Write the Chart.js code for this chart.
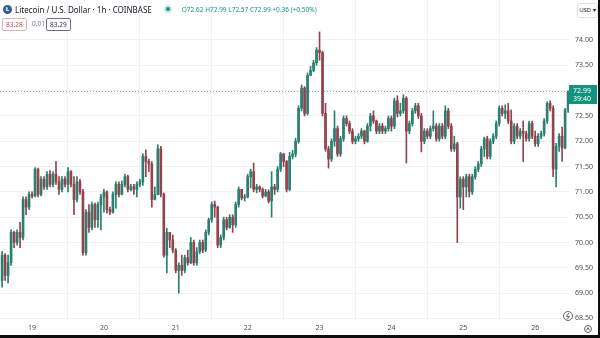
<!DOCTYPE html>
<html lang="en">
  <head>
    <meta charset="UTF-8">
    <script src="https://cdn.jsdelivr.net/npm/chart.js"></script>
    <style>
      body {
      margin: 0;
      width: 600px;
      height: 338px;
      overflow: hidden;
      background: #0e0e0f;
      font-family: "Noto Sans", "Open Sans", sans-serif;
      }
      .frame {
      position: absolute;
      left: 0;
      top: 0;
      width: 598px;
      height: 335px;
      background: #ffffff;
      }
      canvas {
      position: absolute;
      left: 0;
      top: 0;
      }
      .legend {
      position: absolute;
      left: 3px;
      top: 3px;
      height: 12px;
      display: flex;
      align-items: center;
      white-space: nowrap;
      font-size: 8px;
      color: #131722;
      }
      .logo {
      width: 9px;
      height: 9px;
      border-radius: 50%;
      background: #345d9d;
      color: #fff;
      font-size: 6px;
      font-weight: bold;
      line-height: 9px;
      text-align: center;
      margin-right: 3px;
      }
      .status {
      width: 4px;
      height: 4px;
      border-radius: 50%;
      background: #089981;
      box-shadow: 0 0 0 2px #c8ebe4;
      margin: 0 12px 0 14px;
      }
      .ohlc {
      font-size: 6.5px;
      color: #089981;
      }
      .trade {
      position: absolute;
      top: 18px;
      height: 11px;
      font-size: 6.5px;
      line-height: 11px;
      }
      .trade.box {
      border: 1px solid #b9bcc4;
      border-radius: 2px;
      padding: 0 3px;
      }
      .usd {
      position: absolute;
      left: 577px;
      top: 3px;
      height: 13px;
      width: 19px;
      border: 1px solid #e0e3eb;
      border-radius: 2px;
      font-size: 6px;
      line-height: 13px;
      text-align: center;
      color: #131722;
      background: #fff;
      }
    </style>
  </head>
  <body>
    <div class="frame">
      <canvas id="ltcChart" width="598" height="335"></canvas>
      <div class="legend">
        <div class="logo">Ł</div>
        <span>Litecoin / U.S. Dollar · 1h · COINBASE</span>
        <div class="status"></div>
        <span class="ohlc">O72.62 H72.99 L72.57 C72.99 +0.36 (+0.50%)</span>
      </div>
      <div class="trade box" style="left:2px; color:#b0464d; border-color:#d9b3b6;">83.28</div>
      <div class="trade" style="left:32px; color:#787b86;">0.01</div>
      <div class="trade box" style="left:46px; color:#2a2e39; border-color:#6c7080;">83.29</div>
      <div class="usd">USD ▾</div>
    </div>
    <script>
      // LTC/USD hourly candles, from 18th 14:00 to 26th 11:00
      const opens = [
        69.25, 69.75, 69.35, 69.60, 70.20, 70.00, 70.20, 70.10, 70.85, 70.70,
        70.95, 70.92, 71.45, 70.95, 71.25, 71.10, 71.35, 71.15, 71.35, 71.20,
        71.05, 71.25, 71.15, 71.40, 71.15, 70.85, 71.20, 71.00, 69.80, 70.60,
        70.30, 70.75, 70.45, 70.75, 70.90, 71.00, 70.65, 70.60, 70.95, 71.15,
        70.95, 71.15, 71.30, 71.05, 71.10, 71.05, 71.15, 71.20, 71.70, 71.60,
        71.55, 70.85, 70.95, 71.85, 70.95, 69.75, 70.20, 70.05, 69.85, 69.45,
        69.55, 69.45, 69.70, 69.60, 70.00, 69.60, 69.82, 70.00, 69.85, 70.20,
        70.45, 70.75, 70.70, 69.95, 70.10, 70.45, 70.30, 70.50, 70.35, 70.75,
        71.05, 70.88, 70.90, 71.30, 71.40, 71.05, 71.10, 71.05, 70.92, 71.00,
        70.82, 71.10, 71.05, 71.45, 71.75, 71.60, 71.05, 71.70, 71.75, 72.00,
        72.65, 73.05, 72.55, 73.30, 73.40, 73.55, 73.80, 73.75, 72.55, 71.85,
        71.65, 72.00, 72.25, 71.75, 72.05, 72.45, 72.35, 72.20, 72.00, 72.05,
        72.10, 72.20, 72.00, 72.30, 72.50, 72.40, 72.20, 72.30, 72.20, 72.25,
        72.45, 72.30, 72.80, 72.55, 72.60, 72.85, 72.20, 72.35, 72.60, 72.70,
        72.50, 72.00, 72.20, 72.10, 72.25, 72.30, 72.05, 72.30, 72.10, 72.60,
        72.30, 71.85, 71.95, 70.90, 71.25, 71.10, 71.30, 71.00, 71.30, 71.45,
        71.55, 71.85, 72.05, 71.70, 72.00, 72.10, 72.35, 72.65, 72.55, 72.60,
        72.40, 72.00, 72.30, 72.10, 72.20, 72.15, 72.05, 72.35, 72.10, 71.95,
        72.10, 72.15, 72.40, 72.75, 72.65, 71.45, 71.90, 72.10, 71.87, 72.62
      ];
      const highs = [
        69.82, 69.78, 69.75, 70.25, 70.22, 70.25, 70.40, 70.90, 70.90, 71.00,
        71.00, 71.48, 71.47, 71.30, 71.30, 71.40, 71.42, 71.40, 71.60, 71.30,
        71.30, 71.30, 71.48, 71.42, 71.30, 71.30, 71.25, 71.05, 70.65, 70.75,
        70.80, 70.78, 70.80, 70.95, 71.05, 71.02, 70.70, 71.00, 71.20, 71.20,
        71.22, 71.35, 71.33, 71.15, 71.15, 71.20, 71.25, 71.75, 71.83, 71.65,
        71.60, 71.10, 71.93, 71.90, 70.98, 70.28, 70.20, 70.15, 69.88, 69.60,
        69.75, 69.75, 69.85, 70.10, 70.05, 69.90, 70.05, 70.05, 70.25, 70.48,
        70.80, 70.82, 70.72, 70.15, 70.50, 70.50, 70.55, 70.55, 70.80, 71.10,
        71.05, 70.95, 71.35, 71.45, 71.57, 71.15, 71.12, 71.08, 71.05, 71.04,
        71.40, 71.15, 71.50, 71.78, 71.76, 71.62, 71.78, 71.82, 72.06, 72.70,
        73.11, 73.08, 73.35, 73.48, 73.60, 73.85, 74.16, 73.78, 72.75, 71.90,
        72.05, 72.60, 72.30, 72.10, 72.50, 72.50, 72.40, 72.25, 72.10, 72.15,
        72.25, 72.22, 72.35, 72.55, 72.60, 72.42, 72.35, 72.35, 72.30, 72.50,
        72.50, 72.85, 72.90, 72.75, 72.92, 72.88, 72.40, 72.65, 72.75, 72.75,
        72.55, 72.25, 72.25, 72.30, 72.60, 72.35, 72.35, 72.35, 72.70, 72.65,
        72.35, 72.10, 71.98, 71.30, 71.30, 71.35, 71.35, 71.35, 71.50, 71.60,
        71.90, 72.08, 72.10, 72.05, 72.15, 72.40, 72.70, 72.70, 72.72, 72.75,
        72.62, 72.35, 72.35, 72.25, 72.40, 72.20, 72.40, 72.40, 72.20, 72.15,
        72.20, 72.45, 72.78, 72.80, 72.70, 71.96, 72.15, 72.28, 72.65, 72.99
      ];
      const lows = [
        69.12, 69.25, 69.20, 69.55, 69.90, 69.95, 69.90, 70.05, 70.55, 70.65,
        70.88, 70.90, 70.90, 70.92, 71.05, 71.05, 71.10, 71.10, 71.15, 70.95,
        71.00, 71.10, 71.00, 71.10, 70.55, 70.80, 70.95, 69.75, 69.75, 70.20,
        70.25, 70.30, 70.30, 70.25, 70.60, 70.58, 70.55, 70.58, 70.68, 70.90,
        70.94, 71.10, 71.00, 71.02, 70.95, 70.90, 71.10, 71.13, 71.30, 71.40,
        70.70, 70.84, 70.94, 70.90, 69.71, 69.40, 69.90, 69.80, 69.40, 69.00,
        69.35, 69.40, 69.55, 69.58, 69.55, 69.55, 69.78, 69.80, 69.82, 70.15,
        70.40, 70.50, 69.90, 69.90, 70.05, 70.25, 70.28, 70.20, 70.30, 70.70,
        70.84, 70.82, 70.88, 71.08, 71.00, 70.98, 71.00, 70.88, 70.90, 70.78,
        70.50, 70.95, 71.00, 71.40, 71.50, 71.00, 71.02, 71.65, 71.69, 71.96,
        72.60, 72.50, 72.52, 73.30, 73.37, 73.50, 73.60, 72.50, 71.80, 71.47,
        71.60, 71.90, 71.70, 71.70, 72.00, 72.30, 72.15, 71.95, 71.95, 72.00,
        72.05, 71.95, 71.98, 72.20, 72.35, 72.15, 72.15, 72.15, 72.15, 72.20,
        72.20, 72.25, 72.48, 72.50, 72.55, 71.57, 72.15, 72.30, 72.55, 72.45,
        71.79, 71.95, 72.05, 72.05, 72.20, 72.00, 72.00, 72.05, 72.05, 72.25,
        71.80, 71.80, 70.00, 70.68, 70.65, 70.90, 70.90, 70.95, 71.25, 71.40,
        71.50, 71.70, 71.65, 71.65, 71.95, 72.05, 72.30, 72.50, 72.45, 72.35,
        71.95, 71.95, 72.05, 72.05, 71.60, 72.00, 72.00, 72.05, 71.90, 71.90,
        72.05, 72.10, 72.35, 72.60, 71.30, 71.10, 71.80, 71.60, 71.85, 72.57
      ];
      const closes = [
        69.75, 69.35, 69.60, 70.20, 70.00, 70.20, 70.10, 70.85, 70.70, 70.95,
        70.92, 71.45, 70.95, 71.25, 71.10, 71.35, 71.15, 71.35, 71.20, 71.05,
        71.25, 71.15, 71.40, 71.15, 70.85, 71.20, 71.00, 69.80, 70.60, 70.30,
        70.75, 70.45, 70.75, 70.90, 71.00, 70.65, 70.60, 70.95, 71.15, 70.95,
        71.15, 71.30, 71.05, 71.10, 71.05, 71.15, 71.20, 71.70, 71.60, 71.55,
        70.85, 70.95, 71.85, 70.95, 69.75, 70.20, 70.05, 69.85, 69.45, 69.55,
        69.45, 69.70, 69.60, 70.00, 69.60, 69.82, 70.00, 69.85, 70.20, 70.45,
        70.75, 70.70, 69.95, 70.10, 70.45, 70.30, 70.50, 70.35, 70.75, 71.05,
        70.88, 70.90, 71.30, 71.40, 71.05, 71.10, 71.05, 70.92, 71.00, 70.82,
        71.10, 71.05, 71.45, 71.75, 71.60, 71.05, 71.70, 71.75, 72.00, 72.65,
        73.05, 72.55, 73.30, 73.40, 73.55, 73.80, 73.75, 72.55, 71.85, 71.65,
        72.00, 72.25, 71.75, 72.05, 72.45, 72.35, 72.20, 72.00, 72.05, 72.10,
        72.20, 72.00, 72.30, 72.50, 72.40, 72.20, 72.30, 72.20, 72.25, 72.45,
        72.30, 72.80, 72.55, 72.60, 72.85, 72.20, 72.35, 72.60, 72.70, 72.50,
        72.00, 72.20, 72.10, 72.25, 72.30, 72.05, 72.30, 72.10, 72.60, 72.30,
        71.85, 71.95, 70.90, 71.25, 71.10, 71.30, 71.00, 71.30, 71.45, 71.55,
        71.85, 72.05, 71.70, 72.00, 72.10, 72.35, 72.65, 72.55, 72.60, 72.40,
        72.00, 72.30, 72.10, 72.20, 72.15, 72.05, 72.35, 72.10, 71.95, 72.10,
        72.15, 72.40, 72.75, 72.65, 71.45, 71.90, 72.10, 71.87, 72.62, 72.99
      ];

      // candle index of each midnight, and the day shown under it
      const dayStarts = [10, 34, 58, 82, 106, 130, 154, 178];
      const dayLabels = ['19', '20', '21', '22', '23', '24', '25', '26'];
      const priceTicks = [68.5, 69, 69.5, 70, 70.5, 71, 71.5, 72, 72.5, 73, 73.5, 74];
      const countdown = '39:40';

      const UP = '#2a7f70';
      const DOWN = '#93434c';
      const GRID = '#eff1f4';
      const TEXT = '#4a4e59';

      const candleColor = (ctx) => closes[ctx.dataIndex] >= opens[ctx.dataIndex] ? UP : DOWN;

      const lastPrice = {
        id: 'lastPrice',
        beforeDatasetsDraw(chart) {
          const { ctx, chartArea } = chart;
          const y = Math.round(chart.scales.y.getPixelForValue(closes[closes.length - 1])) + 0.5;
          ctx.save();
          ctx.strokeStyle = '#9aa3a6';
          ctx.lineWidth = 1;
          ctx.setLineDash([1, 2]);
          ctx.beginPath();
          ctx.moveTo(chartArea.left, y);
          ctx.lineTo(chartArea.right, y);
          ctx.stroke();
          ctx.restore();
        },
        afterDraw(chart) {
          const { ctx, chartArea } = chart;
          const y = Math.round(chart.scales.y.getPixelForValue(closes[closes.length - 1]));
          const x = chartArea.right;
          ctx.save();
          // price badge with bar countdown
          ctx.fillStyle = '#13937d';
          ctx.fillRect(x, y - 6, 28, 19);
          ctx.fillStyle = '#ffffff';
          ctx.font = '7px "Noto Sans"';
          ctx.textBaseline = 'middle';
          ctx.fillText(closes[closes.length - 1].toFixed(2), x + 4, y);
          ctx.fillText(countdown, x + 4, y + 8);

          // small scale icons at the bottom right
          ctx.strokeStyle = '#3b3f4a';
          ctx.lineWidth = 0.8;
          ctx.beginPath();
          ctx.arc(568, 316, 4.5, 0, Math.PI * 2);
          ctx.stroke();
          ctx.beginPath();
          ctx.moveTo(569, 313);
          ctx.lineTo(566.5, 316.5);
          ctx.lineTo(569.5, 316.5);
          ctx.lineTo(567, 319.5);
          ctx.stroke();
          ctx.beginPath();
          ctx.arc(588, 329, 3.5, 0, Math.PI * 2);
          ctx.stroke();
          ctx.beginPath();
          ctx.moveTo(586.5, 330.5);
          ctx.lineTo(588, 327.5);
          ctx.lineTo(589.5, 330.5);
          ctx.stroke();
          ctx.restore();
        }
      };

      new Chart(document.getElementById('ltcChart'), {
        type: 'bar',
        data: {
          datasets: [
            {
              // high-low wicks
              data: lows.map((l, i) => ({ x: i, y: [l, highs[i]] })),
              backgroundColor: candleColor,
              barThickness: 1,
              borderWidth: 0,
              grouped: false,
              order: 2
            },
            {
              // open-close bodies
              data: opens.map((o, i) => ({ x: i, y: [o, closes[i]] })),
              backgroundColor: candleColor,
              barThickness: 2,
              minBarLength: 1,
              borderWidth: 0,
              grouped: false,
              order: 1
            }
          ]
        },
        options: {
          responsive: false,
          animation: false,
          devicePixelRatio: 1,
          layout: { padding: 0 },
          plugins: {
            legend: { display: false },
            tooltip: { enabled: false }
          },
          scales: {
            x: {
              type: 'linear',
              min: -0.7,
              max: 189.3,
              offset: false,
              afterBuildTicks: (scale) => {
                scale.ticks = dayStarts.map(v => ({ value: v }));
              },
              afterFit: (scale) => {
                scale.height = 14;
                scale.paddingLeft = 0;
                scale.paddingRight = 0;
              },
              ticks: {
                autoSkip: false,
                maxRotation: 0,
                padding: 3,
                color: TEXT,
                font: { family: 'Noto Sans', size: 7 },
                callback: (v) => dayLabels[dayStarts.indexOf(v)]
              },
              grid: { color: GRID, drawTicks: false },
              border: { display: false }
            },
            y: {
              position: 'right',
              min: 68.45,
              max: 74.79,
              afterBuildTicks: (scale) => {
                scale.ticks = priceTicks.map(v => ({ value: v }));
              },
              afterFit: (scale) => {
                scale.width = 29;
                scale.paddingTop = 0;
                scale.paddingBottom = 0;
              },
              ticks: {
                padding: 6,
                color: TEXT,
                font: { family: 'Noto Sans', size: 7 },
                callback: (v) => v.toFixed(2)
              },
              grid: { color: GRID, drawTicks: false },
              border: { display: false }
            }
          }
        },
        plugins: [lastPrice]
      });
    </script>
  </body>
</html>
